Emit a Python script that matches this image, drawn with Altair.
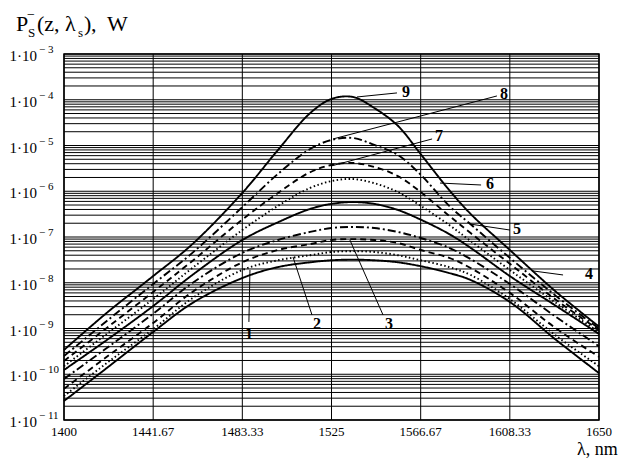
import altair as alt
import pandas as pd

SERIF = "Liberation Serif"

# ---- data ----
wavelength_nm = [1400, 1420, 1441.67, 1460, 1483.33, 1500, 1515, 1525, 1535, 1545,
                 1556, 1566.67, 1580, 1590, 1608.33, 1630, 1650]

curve_1 = [2.6e-11, 1.37e-10, 8.4e-10, 3.6e-9, 1.27e-8, 2.2e-8, 2.8e-8, 3.1e-8, 3.2e-8, 3.1e-8,
           2.8e-8, 2.3e-8, 1.63e-8, 1.15e-8, 3.8e-9, 5.6e-10, 1.06e-10]
curve_2 = [3.35e-11, 1.76e-10, 9.7e-10, 4.6e-9, 1.9e-8, 3.1e-8, 4.0e-8, 4.7e-8, 4.9e-8, 4.7e-8,
           4.0e-8, 3.1e-8, 2.2e-8, 1.48e-8, 4.4e-9, 6.9e-10, 1.5e-10]
curve_3 = [4.8e-11, 2.4e-10, 1.32e-9, 6.3e-9, 2.8e-8, 5.2e-8, 7.0e-8, 8.6e-8, 9.0e-8, 8.6e-8,
           7.4e-8, 5.2e-8, 3.5e-8, 2.1e-8, 6.0e-9, 1.0e-9, 2.4e-10]
curve_4 = [7.9e-11, 3.75e-10, 2.1e-9, 9.9e-9, 4.5e-8, 8.6e-8, 1.29e-7, 1.57e-7, 1.66e-7, 1.57e-7,
           1.29e-7, 9.5e-8, 5.8e-8, 3.3e-8, 9.4e-9, 1.78e-9, 4.1e-10]
curve_5 = [1.24e-10, 5.6e-10, 3.1e-9, 1.48e-8, 8.6e-8, 2.1e-7, 4.1e-7, 5.3e-7, 5.8e-7, 5.3e-7,
           3.9e-7, 2.4e-7, 1.16e-7, 5.8e-8, 1.4e-8, 3.1e-9, 7.6e-10]
curve_6 = [1.5e-10, 7.6e-10, 4.4e-9, 2.1e-8, 1.42e-7, 4.8e-7, 1.18e-6, 1.67e-6, 1.85e-6, 1.5e-6,
           9.6e-7, 4.8e-7, 1.83e-7, 8.2e-8, 1.9e-8, 3.6e-9, 8.4e-10]
curve_7 = [1.95e-10, 1.03e-9, 6.3e-9, 3.0e-8, 2.4e-7, 9.2e-7, 2.6e-6, 3.75e-6, 4.15e-6, 3.4e-6,
           2.15e-6, 9.6e-7, 2.9e-7, 1.22e-7, 2.6e-8, 4.2e-9, 9.3e-10]
curve_8 = [2.5e-10, 1.46e-9, 9.4e-9, 4.5e-8, 4.5e-7, 2.4e-6, 8.4e-6, 1.32e-5, 1.46e-5, 1.03e-5,
           6.2e-6, 2.3e-6, 4.8e-7, 1.9e-7, 3.5e-8, 5.1e-9, 1.0e-9]
curve_9 = [3.4e-10, 2.2e-9, 1.4e-8, 7.0e-8, 9.2e-7, 8.0e-6, 5.1e-5, 1.04e-4, 1.15e-4, 6.6e-5,
           2.7e-5, 6.5e-6, 1.06e-6, 3.2e-7, 5.2e-8, 6.3e-9, 1.1e-9]

curve_names = ["1", "2", "3", "4", "5", "6", "7", "8", "9"]
curve_series = [curve_1, curve_2, curve_3, curve_4, curve_5, curve_6, curve_7, curve_8, curve_9]
curve_styles = ["solid", "dotted", "dashed", "dashdot", "solid", "dotted", "dashed", "dashdot", "solid"]

x_ticks = [1400, 1441.67, 1483.33, 1525, 1566.67, 1608.33, 1650]
x_tick_labels = ["1400", "1441.67", "1483.33", "1525", "1566.67", "1608.33", "1650"]
decades = [1e-11, 1e-10, 1e-9, 1e-8, 1e-7, 1e-6, 1e-5, 1e-4, 1e-3]
decade_exponents = ["\u2212 11", "\u2212 10", "\u2212 9", "\u2212 8", "\u2212 7",
                    "\u2212 6", "\u2212 5", "\u2212 4", "\u2212 3"]
mantissas = [1, 2, 3, 4, 5, 6, 7, 8, 9]

# curve labels and their leader lines (wavelength, power)
label_text = ["1", "2", "3", "4", "5", "6", "7", "8", "9"]
label_lam = [1486.4, 1518.2, 1551.9, 1645.3, 1611.7, 1599.1, 1575.2, 1605.6, 1559.8]
label_val = [7.5e-10, 1.25e-9, 1.25e-9, 1.55e-8, 1.5e-7, 1.44e-6, 1.61e-5, 1.34e-4, 1.48e-4]
leader_lam1 = [1486.4, 1515.9, 1549.1, 1633.2, 1608.4, 1594.9, 1572.0, 1602.3, 1555.6]
leader_val1 = [1.39e-9, 1.97e-9, 1.97e-9, 1.48e-8, 1.42e-7, 1.37e-6, 1.39e-5, 1.21e-4, 1.41e-4]
leader_lam2 = [1486.9, 1507.0, 1533.6, 1619.2, 1589.7, 1575.7, 1524.8, 1525.7, 1536.9]
leader_val2 = [1.9e-8, 3.66e-8, 8.6e-8, 1.81e-8, 1.92e-7, 1.51e-6, 3.56e-6, 1.39e-5, 1.15e-4]

# ---- tables ----
rows = []
for name, vals, style in zip(curve_names, curve_series, curve_styles):
    for lam, v in zip(wavelength_nm, vals):
        rows.append({"lam": lam, "p": v, "curve": name, "style": style})
df = pd.DataFrame(rows)

grid_vals = [m * d for d in decades[:-1] for m in mantissas] + [decades[-1]]
hgrid_df = pd.DataFrame({"v": grid_vals})
vgrid_df = pd.DataFrame({"lam": x_ticks, "lbl": x_tick_labels})

dec_df = pd.DataFrame({"v": decades, "base": ["1\u00b710"] * len(decades), "exp": decade_exponents})
lab_df = pd.DataFrame({"lam": label_lam, "p": label_val, "t": label_text})
lead_df = pd.DataFrame({"lam": leader_lam1, "p": leader_val1, "lam2": leader_lam2, "p2": leader_val2})

xscale = alt.Scale(domain=[1400, 1650], nice=False, zero=False)
yscale = alt.Scale(type="log", domain=[1e-11, 1e-3], nice=False)

hgrid = alt.Chart(hgrid_df).mark_rule(color="black", strokeWidth=1).encode(
    y=alt.Y("v:Q", scale=yscale, axis=None))
vgrid = alt.Chart(vgrid_df).mark_rule(color="black", strokeWidth=1).encode(
    x=alt.X("lam:Q", scale=xscale, axis=None))
xlabels = alt.Chart(vgrid_df).mark_text(font=SERIF, fontSize=13, color="black", align="center",
                                        baseline="middle").encode(
    x=alt.X("lam:Q", scale=xscale, axis=None), y=alt.value(378), text="lbl:N")

lines = alt.Chart(df).mark_line(color="black", strokeWidth=1.9, interpolate="catmull-rom").encode(
    x=alt.X("lam:Q", scale=xscale, axis=None),
    y=alt.Y("p:Q", scale=yscale, axis=None),
    strokeDash=alt.StrokeDash("style:N", legend=None,
                              scale=alt.Scale(domain=["solid", "dotted", "dashed", "dashdot"],
                                              range=[[1, 0], [1.5, 2.5], [6, 4], [8, 3, 2, 3]])),
    detail="curve:N",
)

leaders = alt.Chart(lead_df).mark_rule(color="black", strokeWidth=1).encode(
    x=alt.X("lam:Q", scale=xscale, axis=None), x2="lam2:Q",
    y=alt.Y("p:Q", scale=yscale, axis=None), y2="p2:Q",
)

labels = alt.Chart(lab_df).mark_text(font=SERIF, fontSize=16, fontWeight="bold", color="black",
                                     align="center", baseline="middle").encode(
    x=alt.X("lam:Q", scale=xscale, axis=None),
    y=alt.Y("p:Q", scale=yscale, axis=None),
    text="t:N",
)

ybase = alt.Chart(dec_df).mark_text(font=SERIF, fontSize=15, color="black", align="right",
                                    baseline="middle", dy=2).encode(
    x=alt.value(-27), y=alt.Y("v:Q", scale=yscale, axis=None), text="base:N")
yexp = alt.Chart(dec_df).mark_text(font=SERIF, fontSize=11, color="black", align="left",
                                   baseline="middle", dy=-4).encode(
    x=alt.value(-25), y=alt.Y("v:Q", scale=yscale, axis=None), text="exp:N")

one = alt.Data(values=[{}])
def txt(t, x, y, size):
    return alt.Chart(one).mark_text(font=SERIF, fontSize=size, color="black", align="left",
                                    baseline="alphabetic").encode(
        x=alt.value(x), y=alt.value(y), text=alt.value(t))

title_parts = [
    txt("P", -48, -23, 22),
    txt("S", -36, -17, 13),
    txt("\u2212", -37, -35, 14),
    txt("(z, \u03bb", -27, -23, 22),
    txt("s", 14, -17, 13),
    txt(")",  20, -23, 22),
    txt(",", 27, -23, 22),
    txt("W", 43, -23, 22),
    txt("\u03bb, nm", 513, 401, 18),
]

chart = alt.layer(hgrid, vgrid, xlabels, lines, leaders, labels, ybase, yexp, *title_parts).properties(
    width=535, height=366,
    autosize=alt.AutoSizeParams(type="none"),
    padding={"left": 56, "top": 46, "right": 22, "bottom": 40},
    background="white",
).configure_view(stroke="black", strokeWidth=1.5)

chart.save("out.html", embed_options={"renderer": "svg", "actions": False})
